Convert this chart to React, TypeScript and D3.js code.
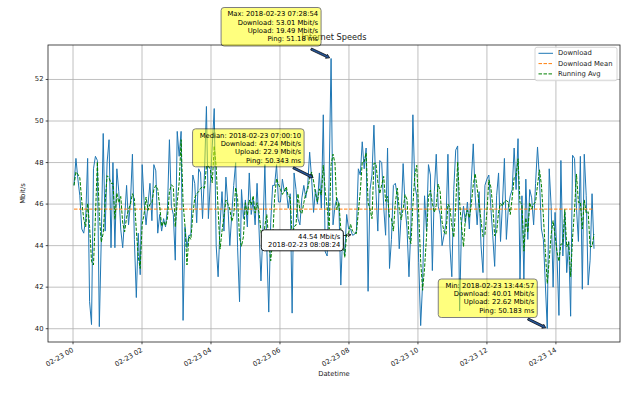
import React from 'react';
import * as d3 from 'd3';

// ---- data ----
const START_UTC = Date.UTC(2018, 1, 23, 0, 1, 42);
const STEP_MS = 203270; // ~3.39 minutes between measurements

const download: number[] = [
  46.9, 48.2, 47.2, 46.4, 44.8, 44.6, 45.3, 48.2, 41.3, 40.2,
  47.7, 48.3, 48.1, 40.1, 44.3, 49.4, 44.7, 48.0, 49.1, 43.9,
  48.0, 43.9, 47.7, 46.6, 44.8, 43.9, 45.3, 46.9, 45.0, 46.1,
  48.4, 44.3, 41.5, 44.6, 42.6, 47.9, 46.1, 45.0, 46.0, 47.0,
  45.2, 47.9, 47.6, 44.6, 45.5, 44.7, 45.3, 44.9, 45.8, 49.1,
  45.9, 45.5, 43.3, 49.5, 48.3, 49.5, 40.4, 44.9, 43.9, 44.5,
  44.5, 47.4, 47.0, 45.1, 47.7, 47.5,
  45.3, 47.5, 50.7, 45.3, 47.0, 48.8, 50.6, 44.0, 42.5, 45.0,
  46.6, 44.7, 47.3, 46.0, 44.0, 45.5, 46.9, 48.0, 43.9, 41.3,
  46.7, 45.3, 46.2, 44.9, 47.5, 45.5, 46.2, 45.0, 47.0, 44.8,
  42.3, 44.7, 47.9, 43.9, 40.8, 45.1, 46.9, 46.9, 47.9, 46.1,
  46.1, 47.2, 46.6, 46.7, 45.8, 46.5, 40.75, 47.5, 46.7, 45.3,
  45.0, 46.3, 46.9, 46.3, 46.9, 48.5, 47.24, 45.6, 46.7, 46.0,
  47.5, 45.8, 50.3, 43.7, 43.5, 47.2,
  53.01,
  45.0, 45.9, 46.3, 46.0, 42.1, 44.7, 43.5, 45.5, 44.8, 44.8,
  44.5, 44.54, 44.7, 47.7, 47.4, 49.0, 47.7, 48.7, 41.8, 46.7,
  47.4, 49.8, 46.7, 44.7, 48.1, 48.0, 45.9, 44.5, 48.7, 42.9,
  44.3, 46.9, 47.0, 46.4, 43.85, 45.5, 47.95, 45.9, 44.8, 42.5,
  45.0, 50.3, 46.9, 46.4, 43.2, 40.15, 42.2, 46.4, 44.7, 47.9,
  47.4, 42.8, 46.6, 48.4, 45.9, 45.5, 44.0, 44.5, 45.1, 48.4,
  44.0, 42.5, 46.7, 48.6, 48.8,
  40.85, 45.1, 45.9, 45.1, 46.1, 44.8, 47.1, 48.9, 46.4, 45.0,
  46.6, 44.0, 42.7, 46.9, 47.2, 47.4, 45.9, 44.5, 43.0, 46.4,
  47.5, 44.2, 46.0, 48.2, 44.3, 45.8, 46.4, 46.7, 48.7, 46.7,
  49.15, 42.4, 46.4, 42.4, 47.2, 44.3, 46.7, 46.3, 45.0, 47.0,
  48.75, 47.2, 44.8, 44.3, 42.2,
  40.01,
  47.7, 45.9, 42.0, 45.6, 43.5, 40.64, 48.1, 43.5, 45.6, 42.7,
  44.2, 40.6, 48.35, 48.2, 45.8, 44.2, 48.3, 41.9, 48.4, 46.4,
  42.1, 43.3, 46.5, 43.85,
];

const RUNNING_WINDOW = 3;
const yTicks = [40, 42, 44, 46, 48, 50, 52];
const xTickHours = [0, 2, 4, 6, 8, 10, 12, 14];
const legendLabels = ['Download', 'Download Mean', 'Running Avg'];
const titleText = 'Internet Speeds';
const xLabel = 'Datetime';
const yLabel = 'Mbit/s';

const annTimes = ['2018-02-23T07:28:54Z', '2018-02-23T07:00:10Z', '2018-02-23T08:08:24Z', '2018-02-23T13:44:57Z'];
const annValues = [53.01, 47.24, 44.54, 40.01];
const annLines = [
  ['Max: 2018-02-23 07:28:54', 'Download: 53.01 Mbit/s', 'Upload: 19.49 Mbit/s', 'Ping: 51.18 ms'],
  ['Median: 2018-02-23 07:00:10', 'Download: 47.24 Mbit/s', 'Upload: 22.9 Mbit/s', 'Ping: 50.343 ms'],
  ['44.54 Mbit/s', '2018-02-23 08:08:24'],
  ['Min: 2018-02-23 13:44:57', 'Download: 40.01 Mbit/s', 'Upload: 22.62 Mbit/s', 'Ping: 50.183 ms'],
];

// ---- layout (pixels) ----
const W = 638, H = 393;
const M = { left: 48, right: 620, top: 45, bottom: 342 };
const FONT = 'DejaVu Sans, sans-serif';
const FS = 6.8;
// box offsets relative to annotated point: [dx, dy, w, h, tailDx, tailDy]
const annBox = [
  [-110, -51, 100, 38.5, -20, -9.5],
  [-122, -49.5, 111.5, 38, -21.3, -10.6],
  [-92.5, -4.6, 82, 21, -11.1, 1.3],
  [-109, -49.5, 99, 38.5, -19.3, -9.5],
];
const annStyle = ['yellow', 'yellow', 'white', 'yellow'];

function App() {
  const times = download.map((_, i) => new Date(START_UTC + i * STEP_MS));
  const running = download.map((_, i) => {
    const s = download.slice(Math.max(0, i - RUNNING_WINDOW + 1), i + 1);
    return d3.mean(s) as number;
  });
  const mean = d3.mean(download) as number;

  const t0 = +times[0], t1 = +times[times.length - 1];
  const tm = (t1 - t0) * 0.05;
  const x = d3.scaleUtc().domain([new Date(t0 - tm), new Date(t1 + tm)]).range([M.left, M.right]);
  const [ymin, ymax] = d3.extent(download) as [number, number];
  const ym = (ymax - ymin) * 0.05;
  const y = d3.scaleLinear().domain([ymin - ym, ymax + ym]).range([M.bottom, M.top]);

  const line = d3.line<number>().x((_, i) => x(times[i])).y((d) => y(d));
  const day = Date.UTC(2018, 1, 23);
  const xTicks = xTickHours.map((h) => new Date(day + h * 3600000));
  const fmt = d3.utcFormat('%m-%d %H');

  const legendX = 535, legendY = 47.3;
  const legendStyles = [
    { stroke: '#1f77b4', dash: undefined },
    { stroke: '#ff7f0e', dash: '3.5,1.5' },
    { stroke: '#008000', dash: '3.5,1.5' },
  ];

  return (
    <svg width={W} height={H} style={{ position: 'absolute', left: 0, top: 0, background: '#fff' }} fontFamily={FONT}>
      <rect x={0} y={0} width={W} height={H} fill="#fff" />
      <defs>
        <clipPath id="plotclip">
          <rect x={M.left} y={M.top} width={M.right - M.left} height={M.bottom - M.top} />
        </clipPath>
      </defs>
      {/* grid */}
      {xTicks.map((t, i) => (
        <line key={'gx' + i} x1={x(t)} x2={x(t)} y1={M.top} y2={M.bottom} stroke="#b0b0b0" strokeWidth={0.8} />
      ))}
      {yTicks.map((v, i) => (
        <line key={'gy' + i} x1={M.left} x2={M.right} y1={y(v)} y2={y(v)} stroke="#b0b0b0" strokeWidth={0.8} />
      ))}
      <g clipPath="url(#plotclip)">
        <path d={line(download) || ''} fill="none" stroke="#1f77b4" strokeWidth={1} strokeLinejoin="round" />
        <line x1={x(times[0])} x2={x(times[times.length - 1])} y1={y(mean)} y2={y(mean)} stroke="#ff7f0e" strokeWidth={1} strokeDasharray="3.5,1.5" />
        <path d={line(running) || ''} fill="none" stroke="#008000" strokeWidth={1} strokeDasharray="3.5,1.5" />
      </g>
      {/* spines */}
      <rect x={M.left} y={M.top} width={M.right - M.left} height={M.bottom - M.top} fill="none" stroke="#222" strokeWidth={0.8} />
      {/* y ticks */}
      {yTicks.map((v, i) => (
        <g key={'yt' + i}>
          <line x1={M.left - 2.3} x2={M.left} y1={y(v)} y2={y(v)} stroke="#222" strokeWidth={0.8} />
          <text x={M.left - 4.5} y={y(v)} fontSize={FS} textAnchor="end" dominantBaseline="central" fill="#222">{v}</text>
        </g>
      ))}
      {/* x ticks */}
      {xTicks.map((t, i) => (
        <g key={'xt' + i}>
          <line x1={x(t)} x2={x(t)} y1={M.bottom} y2={M.bottom + 2.3} stroke="#222" strokeWidth={0.8} />
          <text transform={`translate(${x(t) - 1.5},${M.bottom + 5}) rotate(-30)`} fontSize={FS} textAnchor="end" dy="0.75em" fill="#222">{fmt(t)}</text>
        </g>
      ))}
      <text x={(M.left + M.right) / 2} y={376} fontSize={FS} textAnchor="middle" fill="#222">{xLabel}</text>
      <text transform={`translate(25,${(M.top + M.bottom) / 2}) rotate(-90)`} fontSize={FS} textAnchor="middle" fill="#222">{yLabel}</text>
      <text x={(M.left + M.right) / 2} y={40} fontSize={8.2} textAnchor="middle" fill="#222">{titleText}</text>

      {/* legend */}
      <rect x={legendX} y={legendY} width={82} height={33.4} rx={2} fill="#fff" fillOpacity={0.8} stroke="#ccc" strokeWidth={0.8} />
      {legendLabels.map((lab, i) => {
        const ly = legendY + 6 + i * 10.3;
        return (
          <g key={'lg' + i}>
            <line x1={legendX + 3.5} x2={legendX + 18} y1={ly} y2={ly} stroke={legendStyles[i].stroke} strokeWidth={1} strokeDasharray={legendStyles[i].dash} />
            <text x={legendX + 23} y={ly} fontSize={FS} dominantBaseline="central" fill="#222">{lab}</text>
          </g>
        );
      })}

      {/* annotations */}
      {annTimes.map((ts, k) => {
        const px = x(new Date(ts));
        const py = y(annValues[k]);
        const [dx, dy, bw, bh, tdx, tdy] = annBox[k];
        const bx = px + dx, by = py + dy;
        const tx = px + tdx, ty = py + tdy;
        const lines = annLines[k];
        const isYellow = annStyle[k] === 'yellow';
        const ang = Math.atan2(py - ty, px - tx);
        const len = Math.hypot(px - tx, py - ty);
        const hx = tx + Math.cos(ang) * len * 0.93;
        const hy = ty + Math.sin(ang) * len * 0.93;
        const nx = -Math.sin(ang), ny = Math.cos(ang);
        const ux = Math.cos(ang), uy = Math.sin(ang);
        const sw = 1.1, hw = 2.2, hl = 3.5;
        const bxh = hx - ux * hl, byh = hy - uy * hl;
        const poly = [
          [tx + nx * sw, ty + ny * sw],
          [bxh + nx * sw, byh + ny * sw],
          [bxh + nx * hw, byh + ny * hw],
          [hx, hy],
          [bxh - nx * hw, byh - ny * hw],
          [bxh - nx * sw, byh - ny * sw],
          [tx - nx * sw, ty - ny * sw],
        ].map((p) => p.join(',')).join(' ');
        return (
          <g key={'an' + k}>
            {isYellow ? (
              <polygon points={poly} fill="#27579a" stroke="#000" strokeWidth={0.7} />
            ) : (
              <g>
                <line x1={tx} y1={ty} x2={px - ux * 3} y2={py - uy * 3} stroke="#000" strokeWidth={0.8} />
                <path d={`M${px - ux * 6 + nx * 1.6},${py - uy * 6 + ny * 1.6} L${px - ux * 3},${py - uy * 3} L${px - ux * 6 - nx * 1.6},${py - uy * 6 - ny * 1.6}`} fill="none" stroke="#000" strokeWidth={0.8} />
              </g>
            )}
            {isYellow ? (
              <rect x={bx} y={by} width={bw} height={bh} rx={3} fill="yellow" stroke="#000" strokeWidth={1} opacity={0.5} />
            ) : (
              <rect x={bx} y={by} width={bw} height={bh} rx={3} fill="#fff" stroke="#000" strokeWidth={0.9} />
            )}
            {lines.map((s, j) => (
              <text key={j} x={bx + bw - 3} y={by + 6.8 + j * 8.3} fontSize={FS} textAnchor="end" dominantBaseline="central" fill="#000">{s}</text>
            ))}
          </g>
        );
      })}
    </svg>
  );
}

export default App;
